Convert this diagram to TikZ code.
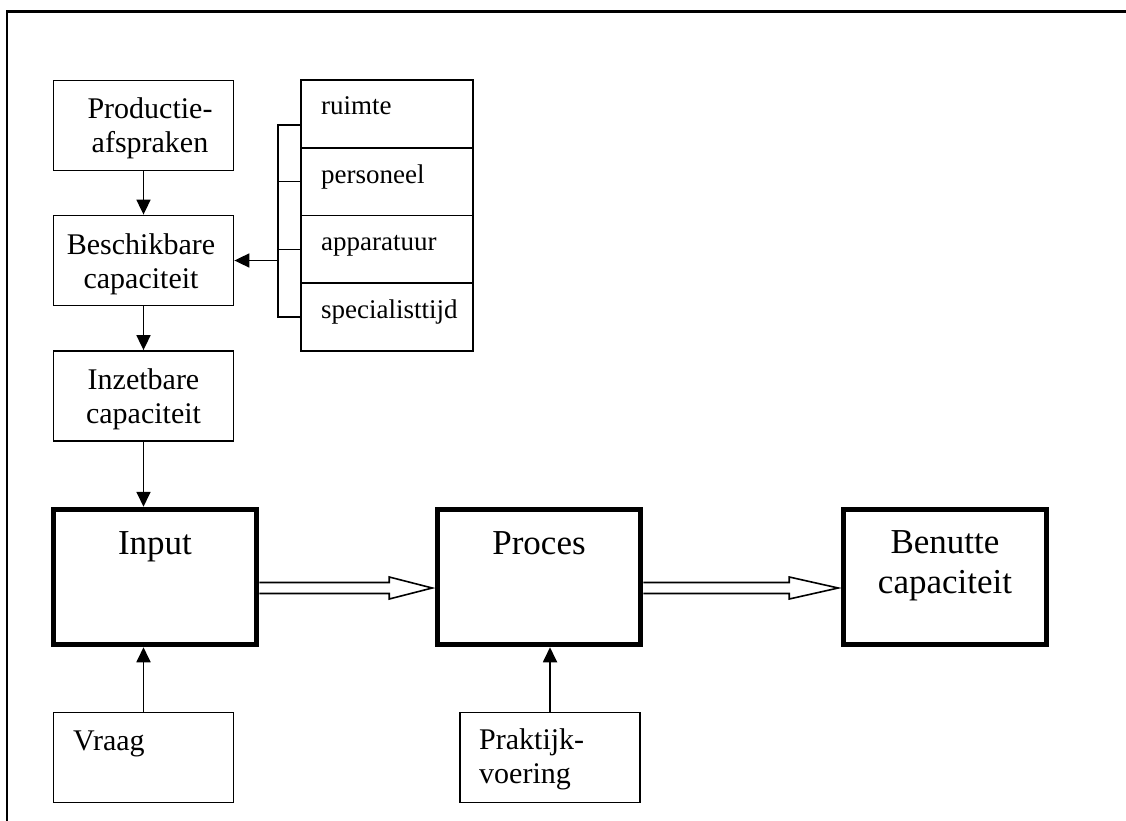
\documentclass[tikz,border=0pt]{standalone}
\usepackage{fontspec}
\setmainfont{Liberation Serif}
\usetikzlibrary{arrows.meta,calc}

\tikzset{
  thin box/.style={draw, line width=1.8pt, inner sep=0pt, minimum width=180pt, minimum height=90pt},
  thick box/.style={draw, line width=5.5pt, inner sep=0pt, minimum width=203pt, minimum height=135pt},
  row box/.style={draw, line width=1.8pt, inner sep=0pt, minimum width=172pt, minimum height=67.75pt},
  label text/.style={inner sep=0pt, font=\fontsize{30}{34}\selectfont, align=center},
  item text/.style={inner sep=0pt, font=\fontsize{27}{31}\selectfont, anchor=base west},
  big text/.style={inner sep=0pt, font=\fontsize{35}{40}\selectfont, align=center},
  link/.style={line width=1.8pt},
  flow/.style={line width=1.8pt, -{Triangle[length=15pt,width=14pt]}},
  fat arrow/.style={line width=1.6pt, line join=miter, fill=white},
}

% open block arrow: #1 = start, #2 = tip, #3 = head length
\newcommand\blockarrow[3]{%
  \draw[fat arrow] ($(#1)+(0,-5.5)$) -- ($(#2)+(-#3,-5.5)$) -- ($(#2)+(-#3,-11)$)
    -- (#2) -- ($(#2)+(-#3,11)$) -- ($(#2)+(-#3,5.5)$) -- ($(#1)+(0,5.5)$);}

\begin{document}
\begin{tikzpicture}[x=1pt,y=-1pt]
\useasboundingbox (0,0) rectangle (1126,821);

% outer frame
\draw[line width=2.4pt] (7,821) -- (7,11.5) -- (1126,11.5);

% left column
\node[thin box] (prod)  at (143.5,125.5) {};
\node[thin box] (besch) at (143.5,260.5) {};
\node[thin box] (inz)   at (143.5,396) {};
\node[label text, anchor=north] at (150,97.5) {Productie-\\afspraken};
\node[label text, anchor=north] at (141,233.5) {Beschikbare\\capaciteit};
\node[label text, anchor=north] at (143.5,368.5) {Inzetbare\\capaciteit};

% resource list
\node[row box] (ruim) at (387,113.9) {};
\node[row box] (pers) at (387,181.6) {};
\node[row box] (appa) at (387,249.4) {};
\node[row box] (spec) at (387,317.1) {};
\node[item text] at (321,115) {ruimte};
\node[item text] at (321,183) {personeel};
\node[item text] at (321,250) {apparatuur};
\node[item text] at (321,318) {specialisttijd};

% bracket collecting the resources
\coordinate (bt) at (278,125);
\coordinate (bb) at (278,317);
\draw[link] (bt -| ruim.west) -- (bt) -- (bb) -- (spec.west);
\draw[link] (bt |- pers.west) -- (pers.west);
\draw[link] (bt |- appa.west) -- (appa.west);
\draw[flow] (bt |- besch.east) -- (besch.east);

% main chain
\node[thick box] (input) at (155,577) {};
\node[thick box] (proc)  at (539,577) {};
\node[thick box] (ben)   at (945,577) {};
\node[big text, anchor=base] at (155,554) {Input};
\node[big text, anchor=base] at (539,554) {Proces};
\node[big text, anchor=north] at (945,530) {Benutte\\capaciteit};

% bottom inputs
\node[thin box] (vraag) at (143.5,757.5) {};
\node[thin box] (prak)  at (550,757.5) {};
\node[label text, anchor=base west] at (73,750) {Vraag};
\node[label text, anchor=north west, align=left] at (479,728.5) {Praktijk-\\voering};

% vertical connectors
\draw[flow] (prod.south) -- (besch.north);
\draw[flow] (besch.south) -- (inz.north);
\draw[flow] (inz.south) -- (inz.south |- input.north);
\draw[flow] (vraag.north) -- (vraag.north |- input.south);
\draw[flow] (prak.north) -- (prak.north |- proc.south);

% block arrows along the chain
\coordinate (a1s) at ($(input.east)+(0,11)$);
\coordinate (a1t) at ($(proc.west)+(-2.5,11)$);
\coordinate (a2s) at ($(proc.east)+(0,11)$);
\coordinate (a2t) at ($(ben.west)+(-2.5,11)$);
\blockarrow{a1s}{a1t}{43}
\blockarrow{a2s}{a2t}{49}
\end{tikzpicture}
\end{document}
